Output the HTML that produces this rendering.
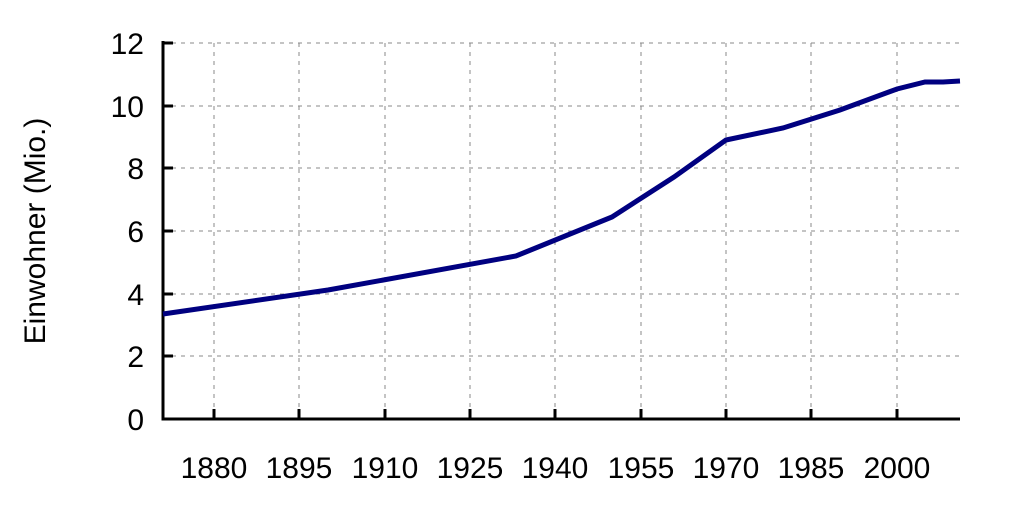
<!DOCTYPE html><html><head><style>body{margin:0;background:#fff}</style></head><body>
<svg width="1024" height="512" xmlns="http://www.w3.org/2000/svg" font-family="Liberation Sans, sans-serif">
<rect width="1024" height="512" fill="#fff"/>
<g stroke="#888" stroke-width="1" stroke-dasharray="4,5">
<line x1="163" y1="356" x2="960" y2="356"/><line x1="163" y1="294" x2="960" y2="294"/><line x1="163" y1="231" x2="960" y2="231"/><line x1="163" y1="168" x2="960" y2="168"/><line x1="163" y1="106" x2="960" y2="106"/><line x1="163" y1="43" x2="960" y2="43"/>
<line x1="214" y1="43" x2="214" y2="419"/><line x1="299" y1="43" x2="299" y2="419"/><line x1="385" y1="43" x2="385" y2="419"/><line x1="470" y1="43" x2="470" y2="419"/><line x1="555" y1="43" x2="555" y2="419"/><line x1="641" y1="43" x2="641" y2="419"/><line x1="726" y1="43" x2="726" y2="419"/><line x1="811" y1="43" x2="811" y2="419"/><line x1="897" y1="43" x2="897" y2="419"/>
</g>
<g stroke="#000" stroke-width="3">
<line x1="163" y1="41" x2="163" y2="420.5"/><line x1="161.5" y1="419" x2="960" y2="419"/>
<line x1="163" y1="356" x2="173" y2="356"/><line x1="163" y1="294" x2="173" y2="294"/><line x1="163" y1="231" x2="173" y2="231"/><line x1="163" y1="168" x2="173" y2="168"/><line x1="163" y1="106" x2="173" y2="106"/><line x1="163" y1="43" x2="173" y2="43"/>
<line x1="214" y1="419" x2="214" y2="409"/><line x1="299" y1="419" x2="299" y2="409"/><line x1="385" y1="419" x2="385" y2="409"/><line x1="470" y1="419" x2="470" y2="409"/><line x1="555" y1="419" x2="555" y2="409"/><line x1="641" y1="419" x2="641" y2="409"/><line x1="726" y1="419" x2="726" y2="409"/><line x1="811" y1="419" x2="811" y2="409"/><line x1="897" y1="419" x2="897" y2="409"/>
</g>
<polyline fill="none" stroke="#000080" stroke-width="5" points="163,314 328,290 516,256 612,217 674,177 726,140 783,128 840,110 897,89 925,82 943,82 960,81"/>
<g font-size="30" text-anchor="end" fill="#000">
<text x="144" y="430">0</text><text x="144" y="367">2</text><text x="144" y="305">4</text><text x="144" y="242">6</text><text x="144" y="179">8</text><text x="144" y="117">10</text><text x="144" y="54">12</text>
</g>
<g font-size="30" text-anchor="middle" fill="#000">
<text x="214" y="478">1880</text><text x="299" y="478">1895</text><text x="385" y="478">1910</text><text x="470" y="478">1925</text><text x="555" y="478">1940</text><text x="641" y="478">1955</text><text x="726" y="478">1970</text><text x="811" y="478">1985</text><text x="897" y="478">2000</text>
</g>
<text transform="translate(45,231) rotate(-90)" font-size="30" text-anchor="middle">Einwohner (Mio.)</text>
</svg></body></html>
